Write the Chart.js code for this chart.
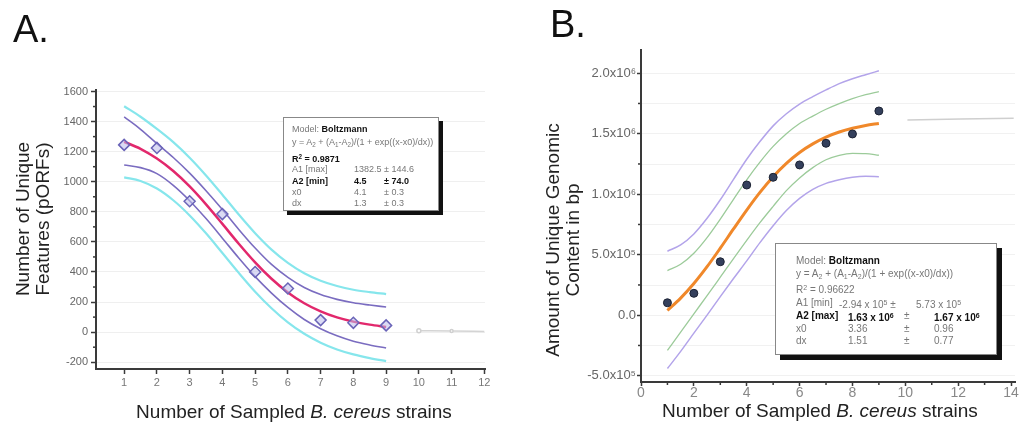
<!DOCTYPE html>
<html><head><meta charset="utf-8">
<script src="https://cdn.jsdelivr.net/npm/chart.js@4.4.0/dist/chart.umd.min.js"></script>
<style>
html,body{margin:0;padding:0;background:#fff;}
body{width:1025px;height:428px;position:relative;overflow:hidden;font-family:"Liberation Sans",Arial,Helvetica,sans-serif;}
canvas{position:absolute;top:0;}
.t{position:absolute;white-space:nowrap;color:#222;}
.panel{font-size:38px;line-height:38px;color:#111;}
.xt{font-size:19px;line-height:22px;transform:translate(-50%,-50%);}
.yt{font-size:19px;line-height:20px;text-align:center;transform:translate(-50%,-50%) rotate(-90deg);}
.box{position:absolute;background:#fff;border:1px solid #888;box-sizing:border-box;z-index:5;}
.r{position:absolute;white-space:nowrap;color:#777;}
.r span{position:absolute;top:0;}
.r b, b.k{color:#111;}
.sb{font-size:70%;vertical-align:-2px;}
.sp{font-size:70%;vertical-align:3px;}
</style></head><body>
<canvas id="ca" width="512" height="428" style="left:0"></canvas>
<canvas id="cb" width="513" height="428" style="left:512px"></canvas>

<div class="t panel" style="left:13px;top:10px">A.</div>
<div class="t panel" style="left:550px;top:5px">B.</div>

<div class="t yt" style="left:33px;top:219px">Number of Unique<br>Features (pORFs)</div>
<div class="t yt" style="left:563px;top:240px">Amount of Unique Genomic<br>Content in bp</div>
<div class="t xt" style="left:294px;top:412px">Number of Sampled <i>B. cereus</i> strains</div>
<div class="t xt" style="left:820px;top:411px">Number of Sampled <i>B. cereus</i> strains</div>

<div class="box" style="left:283px;top:117px;width:156px;height:94px;box-shadow:4px 4px 0 #111;font-size:9px;line-height:11px">
  <div class="r" style="left:8px;top:6px">Model: <b>Boltzmann</b></div>
  <div class="r" style="left:8px;top:19px">y = A<span class="sb" style="position:static">2</span> + (A<span class="sb" style="position:static">1</span>-A<span class="sb" style="position:static">2</span>)/(1 + exp((x-x0)/dx))</div>
  <div class="r" style="left:8px;top:33px"><b>R<span class="sp" style="position:static">2</span> = 0.9871</b></div>
  <div class="r" style="left:8px;top:46px;width:140px">A1 [max]<span style="left:62px">1382.5</span><span style="left:92px">± 144.6</span></div>
  <div class="r" style="left:8px;top:58px;width:140px"><b>A2 [min]</b><span style="left:62px"><b>4.5</b></span><span style="left:92px"><b>± 74.0</b></span></div>
  <div class="r" style="left:8px;top:69px;width:140px">x0<span style="left:62px">4.1</span><span style="left:92px">± 0.3</span></div>
  <div class="r" style="left:8px;top:80px;width:140px">dx<span style="left:62px">1.3</span><span style="left:92px">± 0.3</span></div>
</div>

<div class="box" style="left:775px;top:243px;width:222px;height:112px;box-shadow:5px 5px 0 #111;font-size:10px;line-height:12px">
  <div class="r" style="left:20px;top:11px">Model: <b>Boltzmann</b></div>
  <div class="r" style="left:20px;top:24px">y = A<span class="sb" style="position:static">2</span> + (A<span class="sb" style="position:static">1</span>-A<span class="sb" style="position:static">2</span>)/(1 + exp((x-x0)/dx))</div>
  <div class="r" style="left:20px;top:38px">R<span class="sp" style="position:static">2</span> = 0.96622</div>
  <div class="r" style="left:20px;top:53px;width:195px">A1 [min]<span style="left:43px">-2.94 x 10<span class="sp" style="position:static">5</span> ±</span><span style="left:120px">5.73 x 10<span class="sp" style="position:static">5</span></span></div>
  <div class="r" style="left:20px;top:66px;width:195px"><b>A2 [max]</b><span style="left:52px"><b>1.63 x 10<span class="sp" style="position:static">6</span></b></span><span style="left:108px">±</span><span style="left:138px"><b>1.67 x 10<span class="sp" style="position:static">6</span></b></span></div>
  <div class="r" style="left:20px;top:79px;width:195px">x0<span style="left:52px">3.36</span><span style="left:108px">±</span><span style="left:138px">0.96</span></div>
  <div class="r" style="left:20px;top:91px;width:195px">dx<span style="left:52px">1.51</span><span style="left:108px">±</span><span style="left:138px">0.77</span></div>
</div>

<script>
// ---------- Panel A data ----------
const strainsA = [1, 2, 3, 4, 5, 6, 7, 8, 9];
const uniqueFeatures = [1245, 1225, 870, 785, 400, 290, 80, 62, 45];
const curveX = [1, 1.5, 2, 2.5, 3, 3.5, 4, 4.5, 5, 5.5, 6, 6.5, 7, 7.5, 8, 8.5, 9];
const fitA = [1266, 1219, 1154, 1071, 969, 850, 720, 588, 464, 355, 264, 192, 138, 98, 70, 50, 35];
const confUpperA = [1431, 1349, 1254, 1161, 1057, 940, 815, 683, 559, 450, 364, 297, 250, 218, 195, 180, 167];
const confLowerA = [1111, 1094, 1054, 976, 874, 755, 625, 493, 369, 260, 164, 84, 23, -24, -60, -85, -105];
const predUpperA = [1502, 1432, 1351, 1263, 1160, 1042, 914, 782, 658, 549, 461, 392, 342, 307, 282, 266, 253];
const predLowerA = [1029, 1005, 955, 877, 776, 657, 526, 394, 269, 159, 65, -11, -70, -115, -148, -173, -193];
const greyXA = [10.0, 11.0, 12.0];
const greyYA = [10, 8, 5];
const xTicksA = [1, 2, 3, 4, 5, 6, 7, 8, 9, 10, 11, 12];
const yTicksA = [-200, 0, 200, 400, 600, 800, 1000, 1200, 1400, 1600];
const yMinorA = [-100, 100, 300, 500, 700, 900, 1100, 1300, 1500];

// ---------- Panel B data ----------
const strainsB = [1, 2, 3, 4, 5, 6, 7, 8, 9];
const uniqueContent = [103000, 181000, 442000, 1076000, 1140000, 1242000, 1421000, 1498000, 1688000];
const fitB = [39000, 141000, 262000, 401000, 554000, 713000, 869000, 1015000, 1145000, 1255000, 1345000, 1416000, 1472000, 1514000, 1545000, 1568000, 1585000];
const confUpperB = [369000, 421000, 512000, 641000, 794000, 958000, 1119000, 1265000, 1395000, 1500000, 1585000, 1646000, 1702000, 1749000, 1790000, 1823000, 1848000];
const confLowerB = [-291000, -139000, 12000, 161000, 314000, 468000, 619000, 765000, 900000, 1030000, 1135000, 1220000, 1285000, 1322000, 1338000, 1336000, 1322000];
const predUpperB = [529000, 581000, 672000, 801000, 954000, 1123000, 1289000, 1435000, 1565000, 1665000, 1745000, 1806000, 1862000, 1914000, 1955000, 1988000, 2020000];
const predLowerB = [-441000, -299000, -148000, 1000, 154000, 303000, 449000, 600000, 740000, 865000, 965000, 1040000, 1090000, 1120000, 1140000, 1148000, 1145000];
const greyXB = [10.08, 14.1];
const greyYB = [1614000, 1628000];
const xTicksB = [0, 2, 4, 6, 8, 10, 12, 14];
const xMinorB = [1, 3, 5, 7, 9, 11, 13];
const yTicksB = [-500000, 0, 500000, 1000000, 1500000, 2000000];
const yTickLabelsB = ['-5.0x10\u2075', '0.0', '5.0x10\u2075', '1.0x10\u2076', '1.5x10\u2076', '2.0x10\u2076'];
const yMinorB = [-250000, 250000, 750000, 1250000, 1750000];

const F = '"Liberation Sans", Arial, Helvetica, sans-serif';
const pts = (xs, ys) => xs.map((x, i) => ({x: x, y: ys[i]}));

const minorPlugin = {
  id: 'minorTicks',
  beforeDatasetsDraw(chart, args, o) {
    const {ctx, chartArea: a, scales: {y}} = chart;
    ctx.save(); ctx.strokeStyle = o.gridColor; ctx.lineWidth = 1;
    (o.gridY || []).forEach(v => {
      const p = Math.round(y.getPixelForValue(v)) + 0.5;
      ctx.beginPath(); ctx.moveTo(a.left + 1, p); ctx.lineTo(a.right, p); ctx.stroke();
    });
    ctx.restore();
  },
  afterDraw(chart, args, o) {
    const {ctx, chartArea: a, scales: {x, y}} = chart;
    ctx.save(); ctx.strokeStyle = o.tickColor; ctx.lineWidth = 1.5;
    (o.x || []).forEach(v => {
      const p = x.getPixelForValue(v);
      ctx.beginPath(); ctx.moveTo(p, a.bottom); ctx.lineTo(p, a.bottom + o.len); ctx.stroke();
    });
    (o.y || []).forEach(v => {
      const p = y.getPixelForValue(v);
      ctx.beginPath(); ctx.moveTo(a.left, p); ctx.lineTo(a.left - o.len, p); ctx.stroke();
    });
    ctx.restore();
  }
};

function lineDs(xs, ys, color, w) {
  return {data: pts(xs, ys), showLine: true, borderColor: color, borderWidth: w,
    pointRadius: 0, cubicInterpolationMode: 'monotone', fill: false};
}

// ---------- Chart A ----------
new Chart(document.getElementById('ca'), {
  type: 'scatter',
  data: {datasets: [
    {data: pts(strainsA, uniqueFeatures), pointStyle: 'rectRot', pointRadius: 5.5,
     pointBorderColor: '#6a64b8', pointBackgroundColor: 'rgba(190,190,235,0.55)', pointBorderWidth: 1.5},
    lineDs(curveX, fitA, '#e2286c', 2.5),
    lineDs(curveX, confUpperA, '#7a6cc0', 1.6),
    lineDs(curveX, confLowerA, '#7a6cc0', 1.6),
    lineDs(curveX, predUpperA, '#86e6ec', 2.2),
    lineDs(curveX, predLowerA, '#86e6ec', 2.2),
    Object.assign(lineDs(greyXA, greyYA, '#d4d4d4', 1.5), {pointRadius: [2, 1.5, 0], pointBackgroundColor: '#fff', pointBorderColor: '#d0d0d0'})
  ]},
  options: {
    responsive: false, animation: false, events: [],
    layout: {padding: {top: 90, right: 27, left: 0, bottom: 0}},
    plugins: {legend: {display: false}, tooltip: {enabled: false},
      minorTicks: {y: yMinorA, x: [], len: 3, tickColor: '#3a3a3a', gridColor: 'rgba(0,0,0,0)'}},
    scales: {
      x: {type: 'linear', min: 0.14, max: 12.02,
        afterBuildTicks: s => { s.ticks = xTicksA.map(v => ({value: v})); },
        afterFit: s => { s.height = 59; },
        border: {color: '#3a3a3a', width: 2},
        grid: {drawOnChartArea: false, tickLength: 5, tickColor: '#3a3a3a', tickWidth: 1.5},
        ticks: {color: '#777', font: {size: 11, family: F}, padding: 2, maxRotation: 0, autoSkip: false,
          callback: v => String(v)}},
      y: {type: 'linear', min: -245, max: 1610,
        afterBuildTicks: s => { s.ticks = yTicksA.map(v => ({value: v})); },
        afterFit: s => { s.width = 96; },
        border: {color: '#3a3a3a', width: 2},
        grid: {color: '#efefef', tickLength: 5, tickColor: '#3a3a3a', tickWidth: 1.5},
        ticks: {color: '#666', font: {size: 11, family: F}, padding: 3, autoSkip: false,
          callback: v => String(v)}}
    }
  },
  plugins: [minorPlugin]
});

// ---------- Chart B ----------
new Chart(document.getElementById('cb'), {
  type: 'scatter',
  data: {datasets: [
    {data: pts(strainsB, uniqueContent), pointStyle: 'circle', pointRadius: 4,
     pointBorderColor: '#1c2233', pointBackgroundColor: '#34405c', pointBorderWidth: 1},
    lineDs(curveX, fitB, '#f0882a', 3),
    lineDs(curveX, confUpperB, '#9ccb9a', 1.3),
    lineDs(curveX, confLowerB, '#9ccb9a', 1.3),
    lineDs(curveX, predUpperB, '#b3a4ea', 1.5),
    lineDs(curveX, predLowerB, '#b3a4ea', 1.5),
    lineDs(greyXB, greyYB, '#cfcfcf', 1.5)
  ]},
  options: {
    responsive: false, animation: false, events: [],
    layout: {padding: {top: 50, right: 10, left: 0, bottom: 0}},
    plugins: {legend: {display: false}, tooltip: {enabled: false},
      minorTicks: {y: yMinorB, x: xMinorB, gridY: yMinorB, len: 3, tickColor: '#3a3a3a', gridColor: '#f1f1f1'}},
    scales: {
      x: {type: 'linear', min: 0, max: 14.15,
        afterBuildTicks: s => { s.ticks = xTicksB.map(v => ({value: v})); },
        afterFit: s => { s.height = 46; },
        border: {color: '#3a3a3a', width: 2},
        grid: {drawOnChartArea: false, tickLength: 4, tickColor: '#3a3a3a', tickWidth: 1.5},
        ticks: {color: '#888', font: {size: 14, family: F}, padding: -1, maxRotation: 0, autoSkip: false,
          callback: v => String(v)}},
      y: {type: 'linear', min: -552000, max: 2192000,
        afterBuildTicks: s => { s.ticks = yTicksB.map(v => ({value: v})); },
        afterFit: s => { s.width = 129; },
        border: {color: '#3a3a3a', width: 2},
        grid: {color: '#f1f1f1', tickLength: 4, tickColor: '#3a3a3a', tickWidth: 1.5},
        ticks: {color: '#666', font: {size: 13, family: F}, padding: 1, autoSkip: false,
          callback: v => yTickLabelsB[yTicksB.indexOf(v)]}}
    }
  },
  plugins: [minorPlugin]
});
</script>
</body></html>
